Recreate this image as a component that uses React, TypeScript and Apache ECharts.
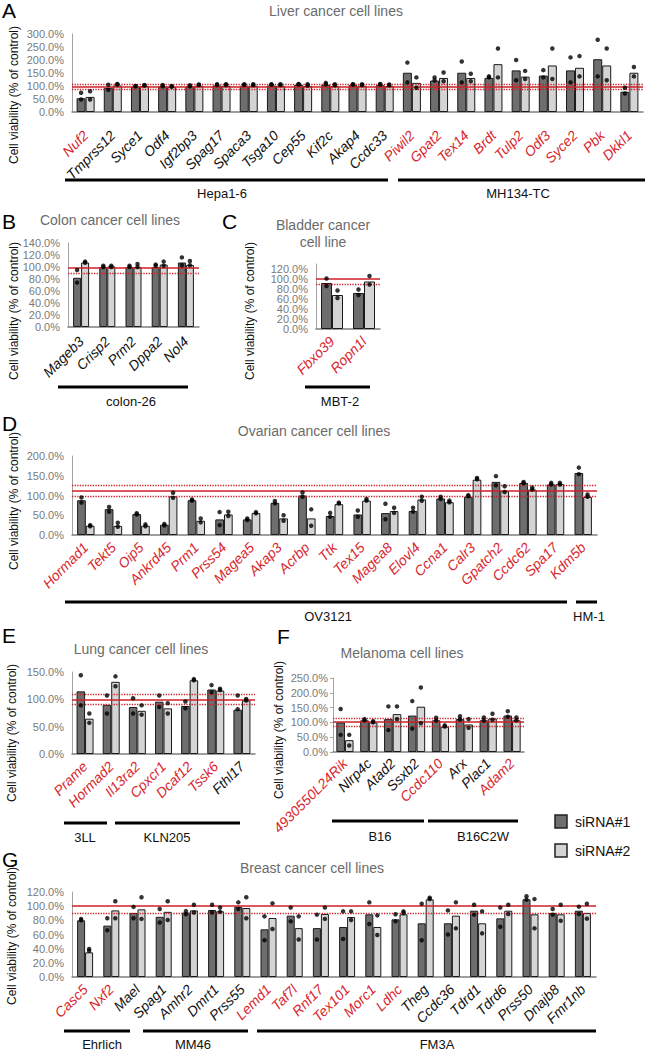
import React, { useEffect, useRef } from "react";
import * as echarts from "echarts";

const W = 646;
const H = 1050;
const FONT = "'Liberation Sans', Arial, sans-serif";
const RED_TEXT = "#d8262d";
const RED_LINE = "#cc1f27";
const DARK = "#6e6e6e";
const LIGHT = "#d4d4d4";
const BORDER = "#1a1a1a";

// ---------- A: Liver ----------
const aGenes = ["Nuf2","Tmprss12","Syce1","Odf4","Igf2bp3","Spag17","Spaca3","Tsga10","Cep55","Kif2c","Akap4","Ccdc33","Piwil2","Gpat2","Tex14","Brdt","Tulp2","Odf3","Syce2","Pbk","Dkkl1"];
const aRed = [1,0,0,0,0,0,0,0,0,0,0,0,1,1,1,1,1,1,1,1,1];
const aSi1 = [53,93,98,98,98,102,101,102,104,105,103,103,151,121,151,131,160,140,160,203,78];
const aSi2 = [58,102,100,96,101,101,101,101,100,100,101,100,112,131,131,184,136,179,170,179,151];
const aDots1 = [[74,48],[105,85],[100,99],[104,99],[103,99],[107,104],[107,104],[107,105],[108,106],[112,107],[107,106],[108,106],[190,114],[133,121],[194,114],[137,133],[200,122],[161,133],[210,114],[278,137],[93,71]];
const aDots2 = [[80,48],[108,106],[104,102],[100,97],[106,104],[107,104],[107,104],[107,104],[107,102],[107,103],[107,104],[106,103],[133,93],[152,118],[147,118],[244,133],[158,127],[244,127],[215,137],[244,122],[173,137]];
const aRefSolid = 97;
const aRefDotted = [108, 86];
const aLines = ["Hepa1-6", "MH134-TC"];

// ---------- B: Colon ----------
const bGenes = ["Mageb3","Crisp2","Prm2","Dppa2","Nol4"];
const bRed = [0,0,0,0,0];
const bSi1 = [82,100,100,100,107.5];
const bSi2 = [107.5,101,100,104,103.5];
const bDots1 = [[95,74],[102,100],[102,100],[104,102],[116,103]];
const bDots2 = [[109,107],[102,100],[105,100],[109,102],[110,103]];
const bRefSolid = 98;
const bRefDotted = [90];
const bLines = ["colon-26"];

// ---------- C: Bladder ----------
const cGenes = ["Fbxo39","Ropn1l"];
const cRed = [1,1];
const cSi1 = [92,72];
const cSi2 = [68,95];
const cDots1 = [[101,86],[79,68]];
const cDots2 = [[77,62],[106,89]];
const cRefSolid = 100;
const cRefDotted = [89];
const cLines = ["MBT-2"];

// ---------- D: Ovarian ----------
const dGenes = ["Hormad1","Tekt5","Oip5","Ankrd45","Prm1","Prss54","Magea5","Akap3","Acrbp","Ttk","Tex15","Magea8","Elovl4","Ccna1","Calr3","Gpatch2","Ccdc62","Spa17","Kdm5b"];
const dRed = [1,1,1,1,1,1,1,1,1,1,1,1,1,1,1,1,1,1,1];
const dSi1 = [88,65.5,53,26,88,39.5,39.5,81.5,100,48,52,55.5,61,92.5,96.6,134.5,132,128,157];
const dSi2 = [23.5,23,23.5,98,36,52,55.5,42,42,78,87,60.5,90,83,140,111,115,128.5,96.6];
const dDots1 = [[95,82],[71,59],[55,52],[28,24],[90,87],[58,25],[42,38],[86,80],[107.5,97],[56,46],[62,46],[79,40],[69,59],[97,91],[101,98],[149,126],[134,131],[132,128],[170.6,154]];
const dDots2 = [[25,22],[31,21],[27,22],[107,94],[42,32],[59,48],[58,55],[50,36],[65,23.5],[82,80],[91,87],[69,56],[97,86.5],[87,83],[144.5,141],[123.5,109],[120,115],[132,128],[102.5,97]];
const dRefSolid = 112;
const dRefDotted = [125, 99];
const dLines = ["OV3121", "HM-1"];

// ---------- E: Lung ----------
const eGenes = ["Prame","Hormad2","Il13ra2","Cpxcr1","Dcaf12","Tssk6","Fthl17"];
const eRed = [1,1,1,1,1,1,0];
const eSi1 = [114.6,90,86,95.7,87.8,118,81];
const eSi2 = [64.6,132,79,83.5,134.8,116,98];
const eDots1 = [[144,89],[107,74],[102,74],[107,86],[96,83.5],[126,113],[107,82]];
const eDots2 = [[74,57],[142,124],[89,72],[93,74],[137,135],[119.5,117],[100.6,98]];
const eRefSolid = 99;
const eRefDotted = [108.5, 91.5];
const eLines = ["3LL", "KLN205"];

// ---------- F: Melanoma ----------
const fGenes = ["4930550L24Rik","Nlrp4c","Atad2","Ssxb2","Ccdc110","Arx","Plac1","Adam2"];
const fRed = [1,0,0,0,1,0,0,1];
const fSi1 = [100,107,111,123,107,111,107,123];
const fSi2 = [40,100,128,153,85.5,93,113,107];
const fDots1 = [[145.5,58],[111,107],[154,74],[172,79],[115.6,106],[121,110],[116.7,106],[138,119]];
const fDots2 = [[58,22],[104,100],[154,111],[218,97],[90,86],[111,82],[129,109],[116.7,107]];
const fRefSolid = 103;
const fRefDotted = [114, 86];
const fLines = ["B16", "B16C2W"];

// ---------- G: Breast ----------
const gGenes = ["Casc5","Nxf2","Mael","Spag1","Amhr2","Dmrt1","Prss55","Lemd1","Taf7l","Rnf17","Tex101","Morc1","Ldhc","Theg","Ccdc36","Tdrd1","Tdrd6","Prss50","Dnajb8","Fmr1nb"];
const gRed = [1,1,0,0,0,0,0,1,1,1,1,1,1,0,0,0,0,0,0,0];
const gSi1 = [80,72.5,90.4,85,91,94.6,99.3,67.3,86.6,69,70.6,88.5,81.4,75.8,75.8,93.6,82.8,109.6,90.4,93.6];
const gSi2 = [34.8,94,95.5,92,94,92.7,97.4,83.3,69,89,84.7,70.6,88.5,109.6,86.6,75.8,93.6,88.5,88.5,90.4];
const gDots1 = [[82,80],[83,66],[99,83],[96,77],[93,88.5],[102,91],[105.4,96],[85.6,51.8],[98,78.6],[88,53],[92.7,53.6],[105.4,74.8],[88.5,78.6],[103.5,51.8],[94,60],[102,88],[98,71],[113.9,109],[96,88],[99.3,89]];
const gDots2 = [[39.5,37],[107,83],[112.5,82],[107,80.5],[102,91],[98,92],[112.5,83],[104,67.8],[85.6,53],[98,82],[92.7,80.5],[87,59.3],[92.7,90.4],[112,110],[105.4,68.7],[92.7,61.6],[102,89],[110,68.7],[102,79.5],[103.5,82.4]];
const gRefSolid = 100;
const gRefDotted = [90];
const gLines = ["Ehrlich", "MM46", "FM3A"];

const seriesNames = ["siRNA#1", "siRNA#2"];
const yTitle = "Cell viability (% of control)";

type Panel = {
  letter: string;
  title: string;
  genes: string[];
  red: number[];
  si1: number[];
  si2: number[];
  dots1: number[][];
  dots2: number[][];
  solid: number;
  dotted: number[];
  max: number;
  interval: number;
  hideMax?: boolean;
  splitMin?: boolean;
  lines: string[];
  // layout
  left: number; top: number; width: number; height: number;
  barWidth: number; labelMargin: number;
  yTicks?: boolean;
  letterPos: [number, number];
  titlePos: [number, number];
  yTitlePos: [number, number];
  linePos: [number, number, number, number, number][]; // x1, x2, y, textX, textY
};

const panels: Panel[] = [
  {
    letter: "A", title: "Liver cancer cell lines",
    genes: aGenes, red: aRed, si1: aSi1, si2: aSi2, dots1: aDots1, dots2: aDots2,
    solid: aRefSolid, dotted: aRefDotted, max: 300, interval: 50, lines: aLines,
    left: 72, top: 34, width: 571, height: 78, barWidth: 9, labelMargin: 21,
    letterPos: [2, 10], titlePos: [336, 11], yTitlePos: [14, 95],
    linePos: [[65, 388, 180, 222, 193], [398, 645, 180, 518, 193]],
  },
  {
    letter: "B", title: "Colon cancer cell lines",
    genes: bGenes, red: bRed, si1: bSi1, si2: bSi2, dots1: bDots1, dots2: bDots2,
    solid: bRefSolid, dotted: bRefDotted, max: 140, interval: 20, lines: bLines,
    left: 68, top: 243, width: 131, height: 84, barWidth: 8, labelMargin: 12,
    letterPos: [2, 221], titlePos: [110, 220], yTitlePos: [14, 311],
    linePos: [[58, 188, 387, 131, 401]],
  },
  {
    letter: "C", title: "Bladder cancer\ncell line",
    genes: cGenes, red: cRed, si1: cSi1, si2: cSi2, dots1: cDots1, dots2: cDots2,
    solid: cRefSolid, dotted: cRefDotted, max: 130, interval: 20, hideMax: true, splitMin: true, lines: cLines,
    left: 316, top: 264, width: 64, height: 65, barWidth: 11, labelMargin: 10,
    letterPos: [222, 221], titlePos: [323, 233], yTitlePos: [250, 311],
    linePos: [[305, 370, 387, 340, 401]],
  },
  {
    letter: "D", title: "Ovarian cancer cell lines",
    genes: dGenes, red: dRed, si1: dSi1, si2: dSi2, dots1: dDots1, dots2: dDots2,
    solid: dRefSolid, dotted: dRefDotted, max: 200, interval: 50, lines: dLines,
    left: 72, top: 456, width: 525, height: 79, barWidth: 8.7, labelMargin: 10,
    letterPos: [2, 423], titlePos: [314, 431], yTitlePos: [14, 501],
    linePos: [[65, 567, 602, 328, 616], [576, 597, 602, 589, 616]],
  },
  {
    letter: "E", title: "Lung cancer cell lines",
    genes: eGenes, red: eRed, si1: eSi1, si2: eSi2, dots1: eDots1, dots2: eDots2,
    solid: eRefSolid, dotted: eRefDotted, max: 150, interval: 50, lines: eLines,
    left: 72, top: 672, width: 183, height: 82, barWidth: 8.5, labelMargin: 10,
    letterPos: [2, 635], titlePos: [141, 649], yTitlePos: [12, 733],
    linePos: [[64, 107, 823, 85, 837], [115, 240, 823, 167, 837]],
  },
  {
    letter: "F", title: "Melanoma cell lines",
    genes: fGenes, red: fRed, si1: fSi1, si2: fSi2, dots1: fDots1, dots2: fDots2,
    solid: fRefSolid, dotted: fRefDotted, max: 250, interval: 50, lines: fLines,
    left: 333, top: 678, width: 191, height: 74, barWidth: 8.6, labelMargin: 9,
    yTicks: true,
    letterPos: [277, 636], titlePos: [402, 653], yTitlePos: [279, 730],
    linePos: [[332, 424, 821, 380, 836], [428, 518, 821, 483, 836]],
  },
  {
    letter: "G", title: "Breast cancer cell lines",
    genes: gGenes, red: gRed, si1: gSi1, si2: gSi2, dots1: gDots1, dots2: gDots2,
    solid: gRefSolid, dotted: gRefDotted, max: 120, interval: 20, lines: gLines,
    left: 72, top: 892, width: 524, height: 85, barWidth: 8, labelMargin: 10,
    letterPos: [2, 859], titlePos: [312, 868], yTitlePos: [12, 936],
    linePos: [[64, 130, 1031, 102, 1044], [143, 248, 1031, 193, 1044], [257, 596, 1031, 437, 1044]],
  },
];

const pct = (v: number) => v.toFixed(1) + "%";

function buildOption(): any {
  const grid: any[] = [];
  const xAxis: any[] = [];
  const yAxis: any[] = [];
  const series: any[] = [];
  const graphic: any[] = [];

  panels.forEach((p, k) => {
    grid.push({ left: p.left, top: p.top, width: p.width, height: p.height, containLabel: false });
    xAxis.push({
      type: "category",
      gridIndex: k,
      data: p.genes,
      axisLine: { show: true, lineStyle: { color: "#7f7f7f", width: 1.5 } },
      axisTick: { show: false },
      axisLabel: {
        interval: 0,
        rotate: 45,
        margin: p.labelMargin,
        fontSize: 14,
        fontStyle: "italic",
        fontFamily: FONT,
        color: (_v: string, i: number) => (p.red[i] ? RED_TEXT : "#111111"),
      },
    });
    const yIndex = yAxis.length;
    const labelBase = {
      fontSize: 11,
      fontFamily: FONT,
      color: "#7a7a7a",
      margin: p.yTicks ? 5 : 8,
    };
    yAxis.push({
      type: "value",
      gridIndex: k,
      position: "left",
      min: 0,
      max: p.max,
      interval: p.interval,
      splitLine: { show: false },
      axisLine: { show: true, lineStyle: { color: "#a3a3a3", width: 1 } },
      axisTick: p.yTicks
        ? { show: true, length: 3, lineStyle: { color: "#a3a3a3" } }
        : { show: false },
      axisLabel: {
        ...labelBase,
        showMinLabel: p.splitMin ? false : true,
        showMaxLabel: !p.hideMax,
        formatter: pct,
      },
    });
    if (p.splitMin) {
      // second axis on the same grid carrying only the 0% label (avoids auto-hiding of crowded labels)
      yAxis.push({
        type: "value",
        gridIndex: k,
        position: "left",
        offset: 0,
        min: 0,
        max: p.max,
        interval: p.interval,
        splitLine: { show: false },
        axisLine: { show: false },
        axisTick: { show: false },
        axisLabel: {
          ...labelBase,
          showMinLabel: true,
          showMaxLabel: false,
          formatter: (v: number) => (v === 0 ? pct(v) : ""),
        },
      });
    }
    const markData: any[] = [
      { yAxis: p.solid, lineStyle: { color: RED_LINE, type: "solid", width: 1.5 } },
      ...p.dotted.map((v) => ({ yAxis: v, lineStyle: { color: RED_LINE, type: "dotted", width: 1.3 } })),
    ];
    series.push({
      type: "bar",
      name: seriesNames[0],
      xAxisIndex: k,
      yAxisIndex: yIndex,
      data: p.si1,
      barWidth: p.barWidth,
      barGap: "0%",
      itemStyle: { color: DARK, borderColor: BORDER, borderWidth: 1 },
      markLine: {
        silent: true,
        symbol: ["none", "none"],
        label: { show: false },
        data: markData,
      },
    });
    series.push({
      type: "bar",
      name: seriesNames[1],
      xAxisIndex: k,
      yAxisIndex: yIndex,
      data: p.si2,
      barWidth: p.barWidth,
      barGap: "0%",
      itemStyle: { color: LIGHT, borderColor: BORDER, borderWidth: 1 },
    });
    series.push({
      type: "scatter",
      name: "dots1",
      xAxisIndex: k,
      yAxisIndex: yIndex,
      data: p.dots1.flatMap((d, i) => d.map((v) => [i, v])),
      symbol: "circle",
      symbolSize: 4.5,
      symbolOffset: [-p.barWidth / 2, 0],
      itemStyle: { color: "#000" },
      z: 5,
    });
    series.push({
      type: "scatter",
      name: "dots2",
      xAxisIndex: k,
      yAxisIndex: yIndex,
      data: p.dots2.flatMap((d, i) => d.map((v) => [i, v])),
      symbol: "circle",
      symbolSize: 4.5,
      symbolOffset: [p.barWidth / 2, 0],
      itemStyle: { color: "#000" },
      z: 5,
    });

    // panel letter
    graphic.push({
      type: "text",
      x: p.letterPos[0],
      y: p.letterPos[1],
      style: { text: p.letter, fill: "#000", fontSize: 21, fontFamily: FONT, align: "left", verticalAlign: "middle" },
    });
    // panel title
    graphic.push({
      type: "text",
      x: p.titlePos[0],
      y: p.titlePos[1],
      style: { text: p.title, fill: "#6b6b6b", fontSize: 14, fontFamily: FONT, align: "center", verticalAlign: "middle", lineHeight: 17 },
    });
    // y title
    graphic.push({
      type: "text",
      x: p.yTitlePos[0],
      y: p.yTitlePos[1],
      rotation: Math.PI / 2,
      style: { text: yTitle, fill: "#111", fontSize: 12, fontFamily: FONT, align: "center", verticalAlign: "middle" },
    });
    // cell line group bars
    p.lines.forEach((name, j) => {
      const [x1, x2, y, tx, ty] = p.linePos[j];
      graphic.push({ type: "line", shape: { x1, y1: y, x2, y2: y }, style: { stroke: "#000", lineWidth: 3 } });
      graphic.push({
        type: "text", x: tx, y: ty,
        style: { text: name, fill: "#111", fontSize: 13, fontFamily: FONT, align: "center", verticalAlign: "middle" },
      });
    });
  });

  // legend
  [DARK, LIGHT].forEach((c, i) => {
    const y = 815 + i * 29;
    graphic.push({ type: "rect", shape: { x: 555, y, width: 12, height: 13 }, style: { fill: c, stroke: "#222", lineWidth: 1.5 } });
    graphic.push({
      type: "text", x: 575, y: y + 6.5,
      style: { text: seriesNames[i], fill: "#111", fontSize: 14, fontFamily: FONT, align: "left", verticalAlign: "middle" },
    });
  });

  return {
    animation: false,
    backgroundColor: "#ffffff",
    textStyle: { fontFamily: FONT },
    grid,
    xAxis,
    yAxis,
    series,
    graphic,
  };
}

export default function App() {
  const ref = useRef<HTMLDivElement>(null);
  useEffect(() => {
    if (!ref.current) return;
    const chart = echarts.init(ref.current, undefined, { renderer: "svg", width: W, height: H });
    chart.setOption(buildOption());
    return () => chart.dispose();
  }, []);
  return (
    <div
      ref={ref}
      style={{ position: "absolute", left: 0, top: 0, width: W, height: H, background: "#fff" }}
    />
  );
}
